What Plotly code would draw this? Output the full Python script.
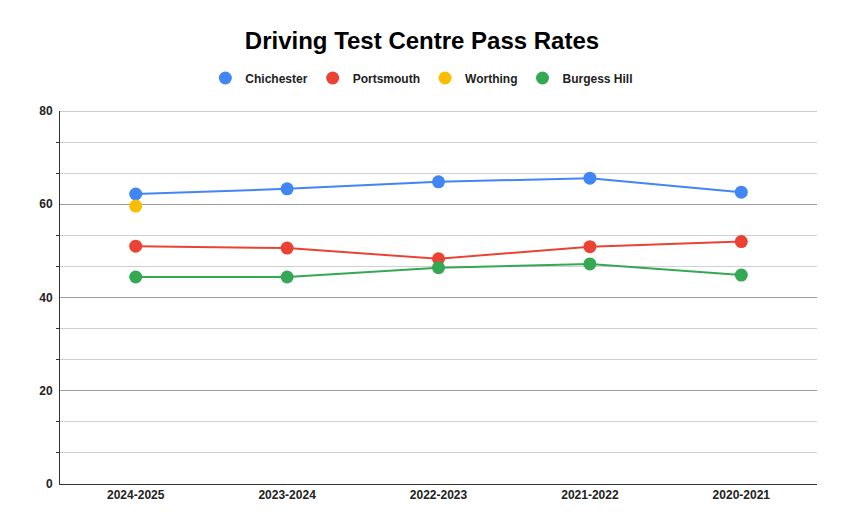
import plotly.graph_objects as go

years = ["2024-2025", "2023-2024", "2022-2023", "2021-2022", "2020-2021"]
chichester = [62.2, 63.3, 64.8, 65.6, 62.6]
portsmouth = [51.0, 50.6, 48.3, 50.9, 52.0]
worthing = [59.6, None, None, None, None]
burgess_hill = [44.4, 44.4, 46.4, 47.2, 44.8]

series = [
    ("Chichester", chichester, "#4285F4"),
    ("Portsmouth", portsmouth, "#EA4335"),
    ("Worthing", worthing, "#FBBC04"),
    ("Burgess Hill", burgess_hill, "#34A853"),
]

fig = go.Figure()
for name, vals, col in series:
    fig.add_trace(go.Scatter(
        x=years, y=vals, name=name, mode="lines+markers",
        line=dict(color=col, width=2),
        marker=dict(color=col, size=13),
        showlegend=False, connectgaps=False,
    ))
for name, vals, col in series:
    fig.add_trace(go.Scatter(
        x=[None], y=[None], name=name, mode="markers",
        marker=dict(color=col, size=13), showlegend=True,
    ))

font = "Liberation Sans, Arial, sans-serif"
fig.update_layout(
    width=844, height=531,
    paper_bgcolor="white", plot_bgcolor="white",
    margin=dict(l=52, r=35, t=103, b=55),
    title=dict(text="<b>Driving Test Centre Pass Rates</b>", x=0.4905, xanchor="center",
               y=0.938, yanchor="middle", font=dict(family=font, size=24, color="#000")),
    legend=dict(orientation="h", x=0.478, xanchor="center",
                y=1.0885, yanchor="middle",
                font=dict(family=font, size=12, color="#222", weight="bold"), itemwidth=30,
                traceorder="normal"),
    xaxis=dict(type="category", range=[-0.5, 4.5], showgrid=False,
               showline=True, linecolor="#333", linewidth=1, ticks="",
               tickfont=dict(family=font, size=12, color="#222", weight="bold"),
               fixedrange=True, zeroline=False),
    yaxis=dict(range=[0, 80], tick0=0, dtick=20, showgrid=True, gridcolor="#9e9e9e",
               gridwidth=1, showline=True, linecolor="#333", linewidth=1,
               zeroline=False, ticks="", ticklabelstandoff=4,
               tickfont=dict(family=font, size=12, color="#222", weight="bold"),
               minor=dict(tick0=0, dtick=20/3, showgrid=True, gridcolor="#d0d0d0",
                          ticks="outside", ticklen=3, tickcolor="#333")),
)
fig.add_shape(type="line", xref="paper", yref="y", x0=0, x1=1, y0=80, y1=80,
              line=dict(color="#9e9e9e", width=1), layer="below")
fig.write_html("out.html")
